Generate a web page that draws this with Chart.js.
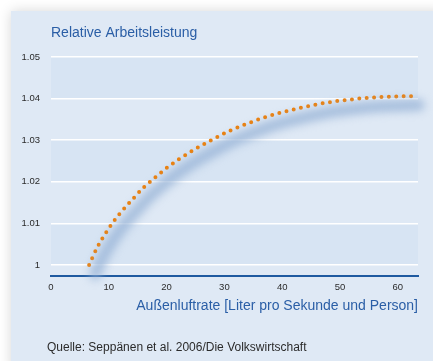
<!DOCTYPE html>
<html>
<head>
<meta charset="utf-8">
<script src="https://cdn.jsdelivr.net/npm/chart.js@4"></script>
<style>
  html, body { margin: 0; padding: 0; background: #ffffff; }
  #wrap { position: relative; width: 433px; height: 361px; }
</style>
</head>
<body>
<div id="wrap"><canvas id="chart" width="433" height="361"></canvas></div>
<script>
// Outdoor air rate (l/s per person) and relative work performance
const airRate = [6.6, 8, 10, 12, 14, 16, 18, 20, 22, 25, 28, 31, 34, 37, 40, 43, 46, 49, 52, 55, 58, 60, 62.6];
const performance = [1.0000, 1.0042, 1.0088, 1.0125, 1.0156, 1.0186, 1.0210, 1.0233, 1.0253, 1.0279, 1.0302,
                     1.0323, 1.0340, 1.0355, 1.0367, 1.0377, 1.0386, 1.0393, 1.0398, 1.0402, 1.0404, 1.0405, 1.0406];
const yTicks = [1, 1.01, 1.02, 1.03, 1.04, 1.05];
const xTicks = [0, 10, 20, 30, 40, 50, 60];

const titleText = 'Relative Arbeitsleistung';
const xTitleText = 'Außenluftrate [Liter pro Sekunde und Person]';
const sourceText = 'Quelle: Seppänen et al. 2006/Die Volkswirtschaft';

const FONT = '"Liberation Sans", Arial, sans-serif';
const BLUE_TEXT = '#2a5ea6';
const PANEL = '#dfe9f5';
const BAND = '#d7e4f3';

const points = airRate.map((x, i) => ({ x: x, y: performance[i] }));

// Panel, alternating bands and free-standing texts
const decor = {
  id: 'decor',
  beforeDraw(chart) {
    const ctx = chart.ctx;
    const a = chart.chartArea;
    const ys = chart.scales.y;
    ctx.save();
    ctx.fillStyle = '#ffffff';
    ctx.fillRect(0, 0, chart.width, chart.height);
    ctx.shadowColor = 'rgba(0,0,0,0.16)';
    ctx.shadowBlur = 12;
    ctx.fillStyle = PANEL;
    ctx.fillRect(11, 11, chart.width, chart.height);
    ctx.restore();

    ctx.save();
    ctx.fillStyle = BAND;
    for (let i = 0; i < yTicks.length - 1; i++) {
      if ((yTicks.length - 2 - i) % 2 === 0) {
        const top = ys.getPixelForValue(yTicks[i + 1]);
        const bot = ys.getPixelForValue(yTicks[i]);
        ctx.fillRect(a.left, top, a.right - a.left, bot - top);
      }
    }
    ctx.restore();
  },
  afterDraw(chart) {
    const ctx = chart.ctx;
    const a = chart.chartArea;
    ctx.save();
    ctx.textBaseline = 'middle';
    ctx.textAlign = 'left';
    ctx.fillStyle = BLUE_TEXT;
    ctx.font = '14px ' + FONT;
    ctx.fillText(titleText, a.left, 33);
    ctx.fillStyle = '#2b2b2b';
    ctx.font = '12px ' + FONT;
    ctx.fillText(sourceText, 47, 348);
    ctx.restore();
  }
};

// Soft blue shadow under the curve
const glow = {
  id: 'glow',
  beforeDatasetDraw(chart, args) {
    if (args.index !== 0) return;
    const ctx = chart.ctx;
    ctx.save();
    ctx.filter = 'blur(4px)';
    ctx.translate(6, 9);
  },
  afterDatasetDraw(chart, args) {
    if (args.index !== 0) return;
    chart.ctx.restore();
  }
};

new Chart(document.getElementById('chart'), {
  type: 'line',
  data: {
    datasets: [
      {
        data: points,
        borderColor: 'rgba(150,178,214,0.75)',
        borderWidth: 12,
        borderCapStyle: 'round',
        pointRadius: 0,
        cubicInterpolationMode: 'monotone',
        clip: false
      },
      {
        data: points,
        borderColor: '#f07d00',
        borderWidth: 4,
        borderCapStyle: 'round',
        borderDash: [0, 7.4],
        pointRadius: 0,
        cubicInterpolationMode: 'monotone',
        clip: false
      }
    ]
  },
  options: {
    responsive: false,
    animation: false,
    events: [],
    layout: { padding: { left: 11, top: 57, right: 15, bottom: 0 } },
    plugins: {
      legend: { display: false },
      tooltip: { enabled: false },
      title: { display: false }
    },
    scales: {
      x: {
        type: 'linear',
        min: 0,
        max: 63.5,
        afterBuildTicks(scale) { scale.ticks = xTicks.map(v => ({ value: v })); },
        afterFit(scale) { scale.height = 85; },
        grid: { display: false, drawTicks: false },
        border: { display: true, color: '#1f5aa0', width: 2 },
        ticks: {
          padding: 6,
          color: '#2b2b2b',
          font: { family: FONT, size: 9.5 },
          maxRotation: 0,
          callback: v => String(v)
        },
        title: {
          display: true,
          text: xTitleText,
          align: 'end',
          color: BLUE_TEXT,
          font: { family: FONT, size: 14 },
          padding: { top: 4, bottom: 46 }
        }
      },
      y: {
        type: 'linear',
        min: 0.99735,
        max: 1.05,
        afterBuildTicks(scale) { scale.ticks = yTicks.map(v => ({ value: v })); },
        afterFit(scale) { scale.width = 40; },
        grid: { color: '#ffffff', lineWidth: 1.5, drawTicks: false },
        border: { display: false },
        ticks: {
          padding: 11,
          color: '#2b2b2b',
          font: { family: FONT, size: 9.5 },
          callback: v => String(Number(v.toFixed(2)))
        }
      }
    }
  },
  plugins: [decor, glow]
});
</script>
</body>
</html>
